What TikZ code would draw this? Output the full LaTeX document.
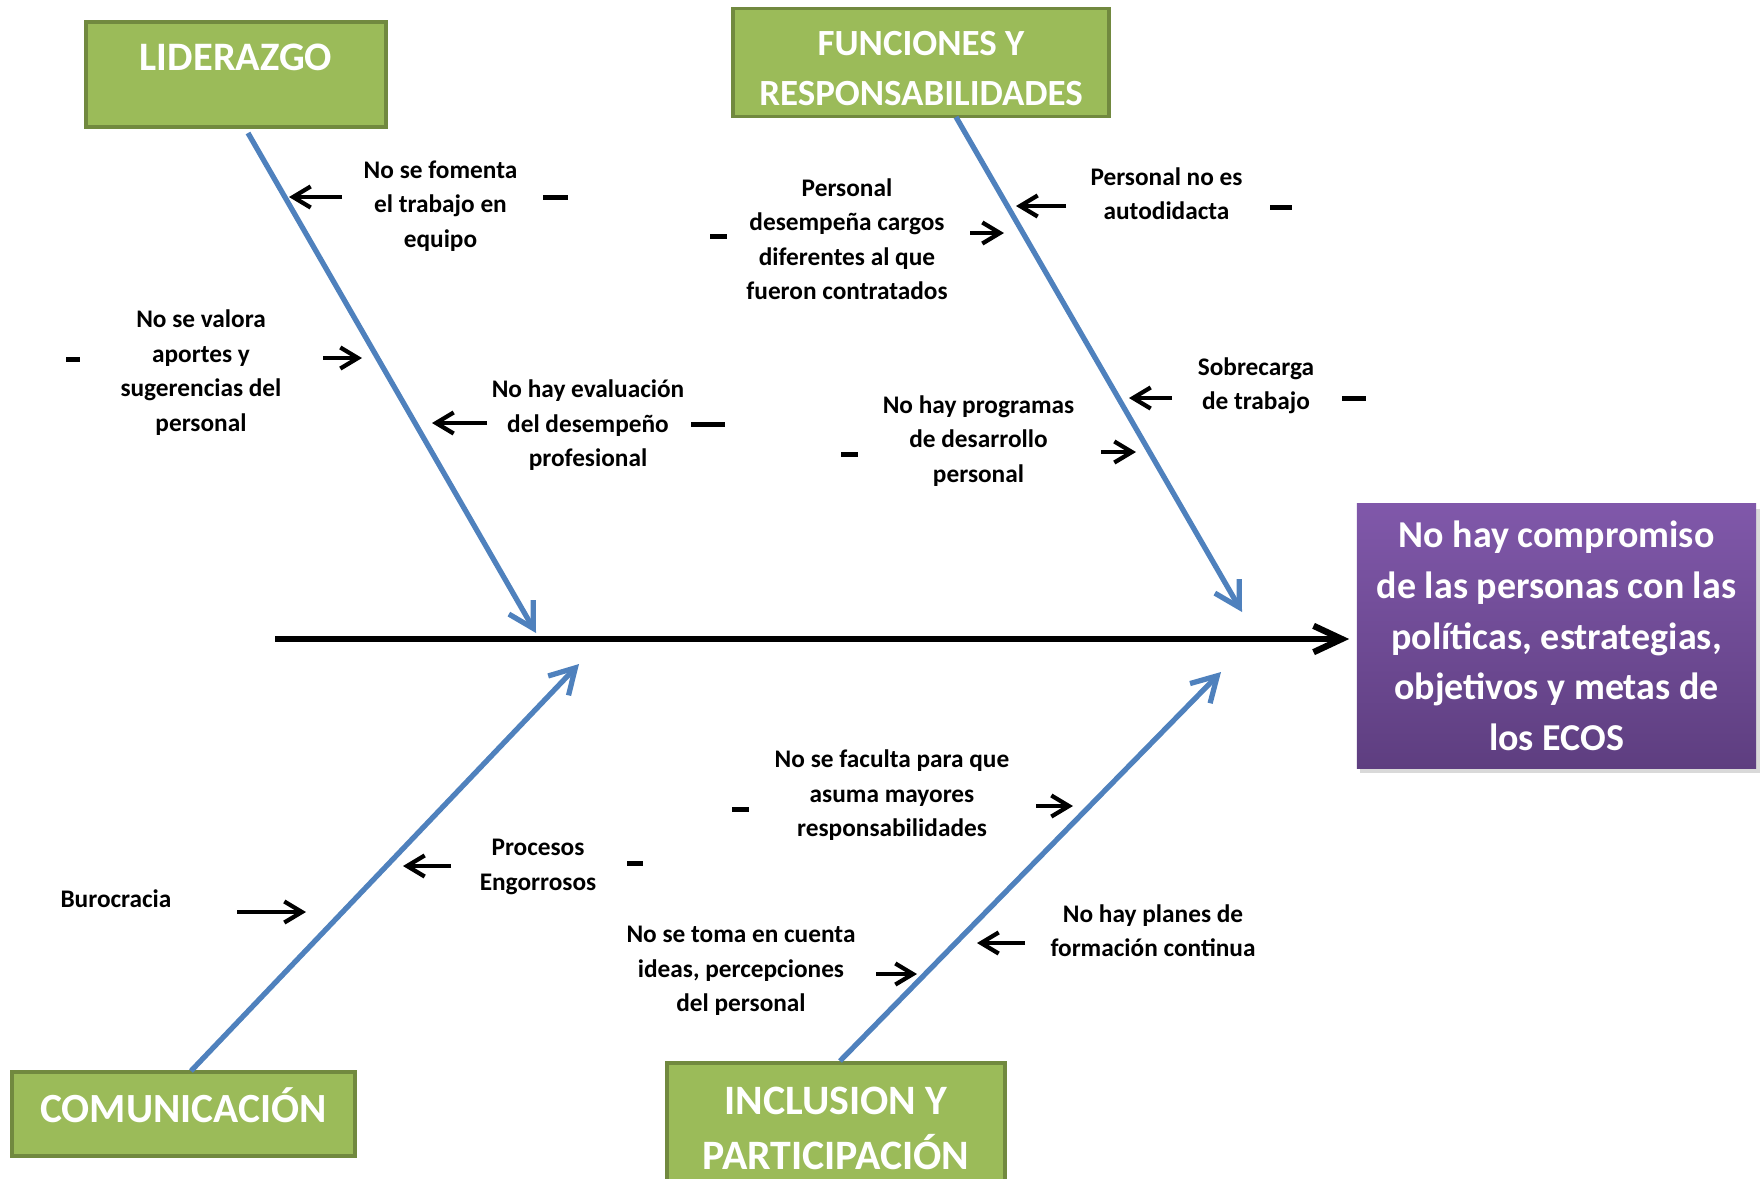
\documentclass[tikz,border=0pt]{standalone}
\usepackage{fontspec}
\setmainfont{Carlito}
\usepackage{tikz}
\usetikzlibrary{arrows.meta, shadows}
\usepackage{xcolor}
\definecolor{catGreen}{RGB}{155,187,89}
\definecolor{catBorder}{RGB}{113,137,63}
\definecolor{boneBlue}{RGB}{79,129,189}
\definecolor{ecosTop}{RGB}{128,88,170}
\definecolor{ecosBottom}{RGB}{94,62,128}

\begin{document}
\begin{tikzpicture}[x=0.01cm, y=-0.01cm,
  category/.style={draw=catBorder, line width=1.1pt, fill=catGreen, text=white, align=center,
    inner sep=0pt, font=\bfseries\fontsize{11.5}{14.3}\selectfont},
  effect/.style={top color=ecosTop, bottom color=ecosBottom, text=white, align=center, inner sep=0pt,
    minimum width=3.99cm, minimum height=2.64cm, font=\bfseries\fontsize{10.8}{14.4}\selectfont,
    drop shadow={opacity=0.3, shadow xshift=1pt, shadow yshift=-1.5pt}},
  cause/.style={align=center, inner sep=0pt, font=\bfseries\fontsize{7.2}{9.8}\selectfont},
  bone/.style={-{Straight Barb[length=7pt, width=8pt]}, line width=1.5pt, boneBlue},
  spine/.style={-{Straight Barb[length=8pt, width=7.5pt]}, line width=1.8pt},
  push/.style={-{Straight Barb[length=5pt, width=6pt]}, line width=1.2pt},
  dashMark/.style={fill=black, inner sep=0pt, minimum height=0.05cm},
]
\useasboundingbox (0,0) rectangle (1760,1178);

% categories and effect
\node[category, minimum width=3.0cm, minimum height=1.05cm] (lid) at (236,74.5) {LIDERAZGO\\[-4.3pt]\mbox{}};
\node[category, minimum width=3.76cm, minimum height=1.08cm, font=\bfseries\fontsize{10.5}{14.2}\selectfont] (fun) at (921,62.5) {\mbox{}\\[-4.1pt]FUNCIONES Y\\RESPONSABILIDADES};
\node[category, minimum width=3.43cm, minimum height=0.84cm, font=\bfseries\fontsize{11.8}{14.3}\selectfont] (com) at (183.5,1114) {COMUNICACIÓN\\[-9.2pt]\mbox{}};
\node[category, minimum width=3.38cm, minimum height=1.3cm, font=\bfseries\fontsize{11.9}{15.6}\selectfont] (inc) at (836,1128) {INCLUSION Y\\PARTICIPACIÓN};
\node[effect] (ecos) at (1556.5,636) {No hay compromiso\\de las personas con las\\políticas, estrategias,\\objetivos y metas de\\los ECOS};

% spine
\coordinate (tail) at (275,639);
\draw[spine, shorten >=2pt] (tail) -- (tail -| ecos.west);

% bones
\coordinate (lidFoot) at (248,133);  \coordinate (lidTip) at (536,633);
\coordinate (funFoot) at (956,117);  \coordinate (funTip) at (1242,612);
\coordinate (comFoot) at (191,1071); \coordinate (comTip) at (579,664);
\coordinate (incFoot) at (840,1061); \coordinate (incTip) at (1221,672);
\draw[bone] (lidFoot) -- (lidTip);
\draw[bone] (funFoot) -- (funTip);
\draw[bone] (comFoot) -- (comTip);
\draw[bone] (incFoot) -- (incTip);

% Liderazgo causes
\node[cause] (equipo) at (440.5,206) {No se fomenta\\el trabajo en\\equipo};
\node[cause] (aportes) at (201,372.5) {No se valora\\aportes y\\sugerencias del\\personal};
\node[cause] (evaluacion) at (588,425.5) {No hay evaluación\\del desempeño\\profesional};
\node[dashMark, minimum width=0.25cm] (equipoDash) at (555.5,197) {};
\node[dashMark, minimum width=0.14cm] (aportesDash) at (73,359) {};
\node[dashMark, minimum width=0.34cm] (evaluacionDash) at (708,424) {};
\coordinate (equipoS) at (342,197);     \coordinate (equipoT) at (289,197);
\coordinate (aportesS) at (323,358);    \coordinate (aportesT) at (362,358);
\coordinate (evaluacionS) at (487,423); \coordinate (evaluacionT) at (432,423);
\draw[push] (equipoS) -- (equipoT);
\draw[push] (aportesS) -- (aportesT);
\draw[push] (evaluacionS) -- (evaluacionT);

% Funciones y responsabilidades causes
\node[cause] (cargos) at (847,239) {Personal\\desempeña cargos\\diferentes al que\\fueron contratados};
\node[cause] (autodidacta) at (1166.5,193.5) {Personal no es\\autodidacta};
\node[cause] (sobrecarga) at (1256,385.5) {Sobrecarga\\de trabajo};
\node[cause] (programas) at (978.5,441) {No hay programas\\de desarrollo\\personal};
\node[dashMark, minimum width=0.17cm] (cargosDash) at (718.5,236) {};
\node[dashMark, minimum width=0.22cm] (autodidactaDash) at (1281,207) {};
\node[dashMark, minimum width=0.24cm] (sobrecargaDash) at (1354,398) {};
\node[dashMark, minimum width=0.17cm] (programasDash) at (849.5,454) {};
\coordinate (cargosS) at (970,233);       \coordinate (cargosT) at (1004,233);
\coordinate (autodidactaS) at (1066,206); \coordinate (autodidactaT) at (1016,206);
\coordinate (sobrecargaS) at (1172,398);  \coordinate (sobrecargaT) at (1129,398);
\coordinate (programasS) at (1101,452);   \coordinate (programasT) at (1136,452);
\draw[push] (cargosS) -- (cargosT);
\draw[push] (autodidactaS) -- (autodidactaT);
\draw[push] (sobrecargaS) -- (sobrecargaT);
\draw[push] (programasS) -- (programasT);

% Comunicacion causes
\node[cause] (burocracia) at (116,899) {Burocracia};
\node[cause] (procesos) at (538,867) {Procesos\\Engorrosos};
\node[dashMark, minimum width=0.16cm] (procesosDash) at (635,863) {};
\coordinate (burocraciaS) at (237,912); \coordinate (burocraciaT) at (306,912);
\coordinate (procesosS) at (451,866);   \coordinate (procesosT) at (403,866);
\draw[push] (burocraciaS) -- (burocraciaT);
\draw[push] (procesosS) -- (procesosT);

% Inclusion y participacion causes
\node[cause] (faculta) at (892,795.5) {No se faculta para que\\asuma mayores\\responsabilidades};
\node[cause] (ideas) at (741,971) {No se toma en cuenta\\ideas, percepciones\\del personal};
\node[cause] (planes) at (1153,930.5) {No hay planes de\\formación continua};
\node[dashMark, minimum width=0.17cm] (facultaDash) at (740.5,809) {};
\coordinate (facultaS) at (1036,806); \coordinate (facultaT) at (1073,806);
\coordinate (ideasS) at (876,974);    \coordinate (ideasT) at (917,974);
\coordinate (planesS) at (1025,943);  \coordinate (planesT) at (977,943);
\draw[push] (facultaS) -- (facultaT);
\draw[push] (ideasS) -- (ideasT);
\draw[push] (planesS) -- (planesT);
\end{tikzpicture}
\end{document}
